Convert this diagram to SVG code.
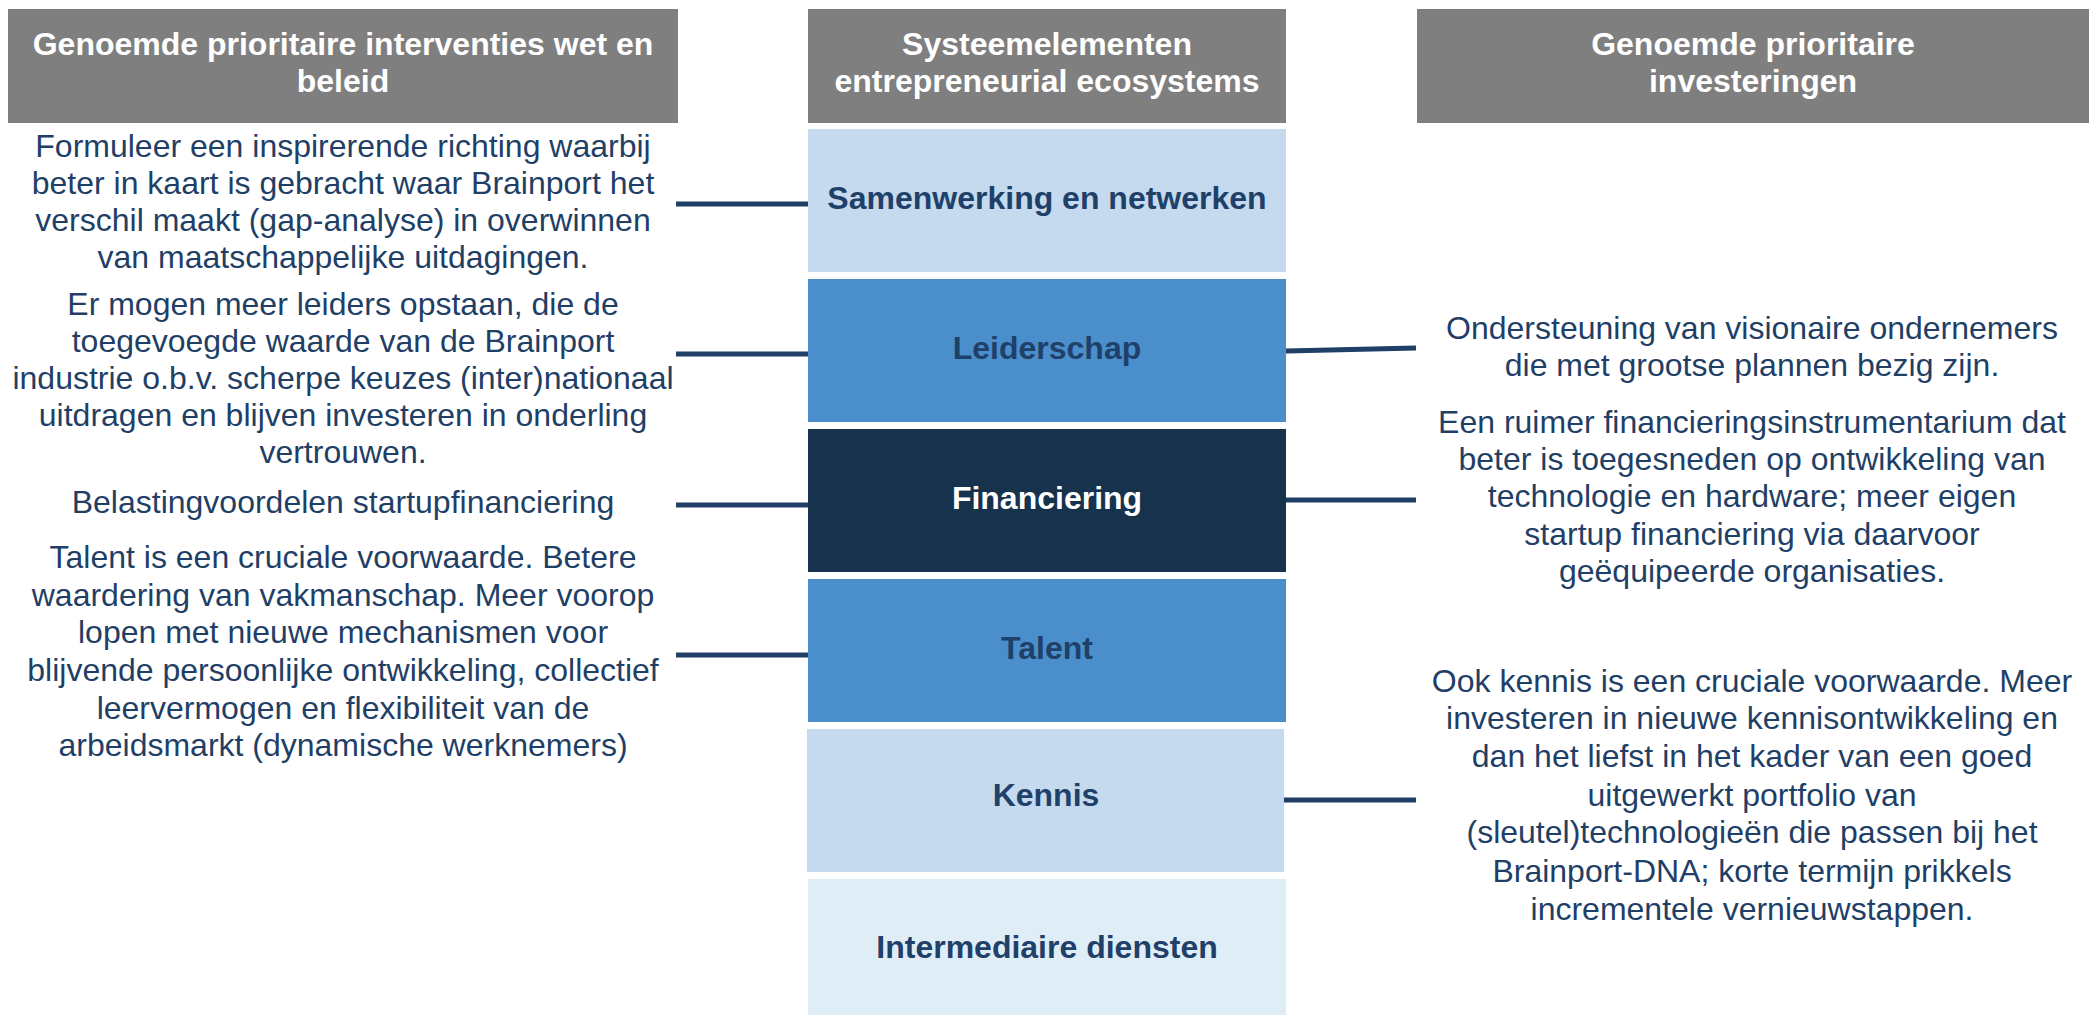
<svg xmlns="http://www.w3.org/2000/svg" width="2100" height="1017" viewBox="0 0 2100 1017">
  <style>
    .hdr { fill: #7f7f7f; }
    .hdr-t { font-family: "Liberation Sans", Arial, sans-serif; font-size: 32px; font-weight: bold; fill: #ffffff; text-anchor: middle; }
    .lbl { font-family: "Liberation Sans", Arial, sans-serif; font-size: 32px; font-weight: bold; fill: #1f4068; text-anchor: middle; }
    .lbl-w { fill: #ffffff; }
    .body { font-family: "Liberation Sans", Arial, sans-serif; font-size: 32px; fill: #1f3f66; text-anchor: middle; }
    .light { fill: #c5daee; }
    .mid { fill: #4a8fcb; }
    .dark { fill: #17324d; }
    .pale { fill: #dfedf6; }
    .conn { stroke: #1f3f66; stroke-width: 5; fill: none; }
  </style>

  <!-- column headers -->
  <g id="header-left">
    <rect class="hdr" x="8" y="9" width="670" height="114"/>
    <text class="hdr-t" x="343" y="55">Genoemde prioritaire interventies wet en</text>
    <text class="hdr-t" x="343" y="92">beleid</text>
  </g>
  <g id="header-middle">
    <rect class="hdr" x="808" y="9" width="478" height="114"/>
    <text class="hdr-t" x="1047" y="55">Systeemelementen</text>
    <text class="hdr-t" x="1047" y="92">entrepreneurial ecosystems</text>
  </g>
  <g id="header-right">
    <rect class="hdr" x="1417" y="9" width="672" height="114"/>
    <text class="hdr-t" x="1753" y="55">Genoemde prioritaire</text>
    <text class="hdr-t" x="1753" y="92">investeringen</text>
  </g>

  <!-- system elements -->
  <g id="el-samenwerking">
    <rect class="light" x="808" y="129" width="478" height="143"/>
    <text class="lbl" x="1047" y="209">Samenwerking en netwerken</text>
  </g>
  <g id="el-leiderschap">
    <rect class="mid" x="808" y="279" width="478" height="143"/>
    <text class="lbl" x="1047" y="359">Leiderschap</text>
  </g>
  <g id="el-financiering">
    <rect class="dark" x="808" y="429" width="478" height="143"/>
    <text class="lbl lbl-w" x="1047" y="509">Financiering</text>
  </g>
  <g id="el-talent">
    <rect class="mid" x="808" y="579" width="478" height="143"/>
    <text class="lbl" x="1047" y="659">Talent</text>
  </g>
  <g id="el-kennis">
    <rect class="light" x="807" y="729" width="477" height="143"/>
    <text class="lbl" x="1046" y="806">Kennis</text>
  </g>
  <g id="el-intermediair">
    <rect class="pale" x="808" y="879" width="478" height="136"/>
    <text class="lbl" x="1047" y="958">Intermediaire diensten</text>
  </g>

  <!-- policy interventions (left) -->
  <g id="left-1">
    <text class="body" x="343" y="157">Formuleer een inspirerende richting waarbij</text>
    <text class="body" x="343" y="194">beter in kaart is gebracht waar Brainport het</text>
    <text class="body" x="343" y="231">verschil maakt (gap-analyse) in overwinnen</text>
    <text class="body" x="343" y="268">van maatschappelijke uitdagingen.</text>
  </g>
  <g id="left-2">
    <text class="body" x="343" y="315">Er mogen meer leiders opstaan, die de</text>
    <text class="body" x="343" y="352">toegevoegde waarde van de Brainport</text>
    <text class="body" x="343" y="389">industrie o.b.v. scherpe keuzes (inter)nationaal</text>
    <text class="body" x="343" y="426">uitdragen en blijven investeren in onderling</text>
    <text class="body" x="343" y="463">vertrouwen.</text>
  </g>
  <g id="left-3">
    <text class="body" x="343" y="513">Belastingvoordelen startupfinanciering</text>
  </g>
  <g id="left-4">
    <text class="body" x="343" y="568">Talent is een cruciale voorwaarde. Betere</text>
    <text class="body" x="343" y="606">waardering van vakmanschap. Meer voorop</text>
    <text class="body" x="343" y="643">lopen met nieuwe mechanismen voor</text>
    <text class="body" x="343" y="681">blijvende persoonlijke ontwikkeling, collectief</text>
    <text class="body" x="343" y="719">leervermogen en flexibiliteit van de</text>
    <text class="body" x="343" y="756">arbeidsmarkt (dynamische werknemers)</text>
  </g>

  <!-- investments (right) -->
  <g id="right-1">
    <text class="body" x="1752" y="339">Ondersteuning van visionaire ondernemers</text>
    <text class="body" x="1752" y="376">die met grootse plannen bezig zijn.</text>
  </g>
  <g id="right-2">
    <text class="body" x="1752" y="433">Een ruimer financieringsinstrumentarium dat</text>
    <text class="body" x="1752" y="470">beter is toegesneden op ontwikkeling van</text>
    <text class="body" x="1752" y="507">technologie en hardware; meer eigen</text>
    <text class="body" x="1752" y="545">startup financiering via daarvoor</text>
    <text class="body" x="1752" y="582">geëquipeerde organisaties.</text>
  </g>
  <g id="right-3">
    <text class="body" x="1752" y="692">Ook kennis is een cruciale voorwaarde. Meer</text>
    <text class="body" x="1752" y="729">investeren in nieuwe kennisontwikkeling en</text>
    <text class="body" x="1752" y="767">dan het liefst in het kader van een goed</text>
    <text class="body" x="1752" y="806">uitgewerkt portfolio van</text>
    <text class="body" x="1752" y="843">(sleutel)technologieën die passen bij het</text>
    <text class="body" x="1752" y="882">Brainport-DNA; korte termijn prikkels</text>
    <text class="body" x="1752" y="920">incrementele vernieuwstappen.</text>
  </g>

  <!-- connectors -->
  <g id="connectors">
    <line class="conn" x1="676" y1="204" x2="808" y2="204"/>
    <line class="conn" x1="676" y1="354" x2="808" y2="354"/>
    <line class="conn" x1="676" y1="505" x2="808" y2="505"/>
    <line class="conn" x1="676" y1="655" x2="808" y2="655"/>
    <line class="conn" x1="1286" y1="351" x2="1416" y2="348"/>
    <line class="conn" x1="1286" y1="500" x2="1416" y2="500"/>
    <line class="conn" x1="1284" y1="800" x2="1416" y2="800"/>
  </g>
</svg>
